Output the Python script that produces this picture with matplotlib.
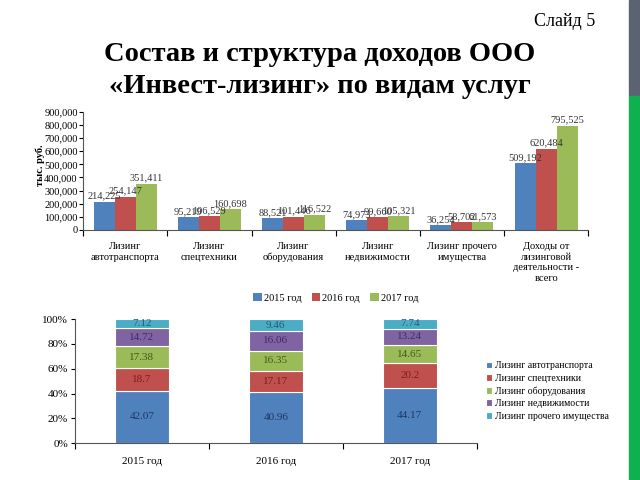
import matplotlib.pyplot as plt
import numpy as np

plt.rcParams['font.family'] = ['Liberation Serif', 'DejaVu Serif']

# top chart: income by service, thousand rub.
categories = ['Лизинг\nавтотранспорта', 'Лизинг\nспецтехники', 'Лизинг\nоборудования',
              'Лизинг\nнедвижимости', 'Лизинг прочего\nимущества',
              'Доходы от\nлизинговой\nдеятельности -\nвсего']
years = ['2015 год', '2016 год', '2017 год']
v2015 = [214225, 95219, 88521, 74973, 36254, 509192]
v2016 = [254147, 106529, 101446, 99660, 58702, 620484]
v2017 = [351411, 160698, 116522, 105321, 61573, 795525]

# bottom chart: structure, %
services = ['Лизинг автотранспорта', 'Лизинг спецтехники', 'Лизинг оборудования',
            'Лизинг недвижимости', 'Лизинг прочего имущества']
share_auto = [42.07, 40.96, 44.17]
share_spec = [18.7, 17.17, 20.2]
share_equip = [17.38, 16.35, 14.65]
share_real = [14.72, 16.06, 13.24]
share_other = [7.12, 9.46, 7.74]

colors = ['#4F81BD', '#C0504D', '#9BBB59', '#8064A2', '#4BACC6']
dark = ['#1F3864', '#7B1F1C', '#3F5A1A', '#3F2A66', '#1F5E70']

fig = plt.figure(figsize=(6.4, 4.8), dpi=100)

# slide decorations
fig.patches.append(plt.Rectangle((629 / 640, 1 - 96 / 480), 11 / 640, 96 / 480,
                                 transform=fig.transFigure, color='#5B6373', zorder=0))
fig.patches.append(plt.Rectangle((629 / 640, 0), 11 / 640, 1 - 96 / 480,
                                 transform=fig.transFigure, color='#10B050', zorder=0))
fig.text(0.93, 0.955, 'Слайд 5', fontsize=13, ha='right', va='center')
fig.text(0.5, 0.853, 'Состав и структура доходов ООО\n«Инвест-лизинг» по видам услуг',
         fontsize=20.5, fontweight='bold', ha='center', va='center', linespacing=1.35)

# ---- top chart
ax = fig.add_axes([0.130, 0.521, 0.789, 0.246])
x = np.arange(len(categories))
w = 0.25
for i, (vals, yr) in enumerate(zip([v2015, v2016, v2017], years)):
    bars = ax.bar(x + (i - 1) * w, vals, w, color=colors[i], label=yr)
    for b, v in zip(bars, vals):
        ax.text(b.get_x() + b.get_width() / 2, v + 8000, f'{v:,}', ha='center',
                va='bottom', fontsize=7.5, color='#333333')
ax.set_xlim(-0.5, len(categories) - 0.5)
ax.set_ylim(0, 900000)
ax.set_yticks(range(0, 900001, 100000))
ax.set_yticklabels(['0'] + [f'{t:,}' for t in range(100000, 900001, 100000)], fontsize=7.5)
ax.set_xticks(np.arange(-0.5, len(categories)))
ax.set_xticklabels([])
ax.set_xticks(x, minor=True)
ax.set_xticklabels(categories, minor=True, fontsize=7.5)
ax.tick_params(axis='x', which='minor', length=0, pad=9)
ax.tick_params(axis='x', which='major', length=4)
ax.tick_params(axis='y', length=3, pad=1)
for s in ['top', 'right']:
    ax.spines[s].set_visible(False)
ax.spines['left'].set_color('#555555')
ax.spines['bottom'].set_color('#555555')
ax.text(-0.085, 0.55, 'тыс. руб.', transform=ax.transAxes, rotation=90,
        fontsize=7.5, fontweight='bold', ha='center', va='center')
ax.legend(loc='center', bbox_to_anchor=(0.5, -0.575), ncol=3, frameon=False,
          fontsize=7.5, handlelength=0.8, handleheight=0.8, handletextpad=0.2,
          columnspacing=1.0)

# ---- bottom chart
ax2 = fig.add_axes([0.117, 0.077, 0.628, 0.258])
xb = np.arange(len(years))
bottom = np.zeros(len(years))
for i, (shares, name) in enumerate(zip([share_auto, share_spec, share_equip, share_real, share_other],
                                        services)):
    ax2.bar(xb, shares, 0.4, bottom=bottom, color=colors[i], label=name,
            edgecolor='white', linewidth=0.8)
    for xi, b0, s in zip(xb, bottom, shares):
        ax2.text(xi, b0 + s / 2, f'{s:g}', ha='center', va='center', fontsize=8, color=dark[i])
    bottom += np.array(shares)
ax2.set_xlim(-0.5, len(years) - 0.5)
ax2.set_ylim(0, 100)
ax2.set_yticks(range(0, 101, 20))
ax2.set_yticklabels([f'{t}%' for t in range(0, 101, 20)], fontsize=8)
ax2.set_xticks(np.arange(-0.5, len(years)))
ax2.set_xticklabels([])
ax2.set_xticks(xb, minor=True)
ax2.set_xticklabels(years, minor=True, fontsize=8)
ax2.tick_params(axis='x', which='minor', length=0, pad=10)
ax2.tick_params(axis='x', which='major', length=4)
ax2.tick_params(axis='y', length=3, pad=2)
for s in ['top', 'right']:
    ax2.spines[s].set_visible(False)
ax2.spines['left'].set_color('#555555')
ax2.spines['bottom'].set_color('#555555')
ax2.legend(loc='center left', bbox_to_anchor=(1.0, 0.42), frameon=False, fontsize=7,
           handlelength=0.7, handleheight=0.7, handletextpad=0.3, labelspacing=0.35)

fig.savefig('out.png', dpi=100)
